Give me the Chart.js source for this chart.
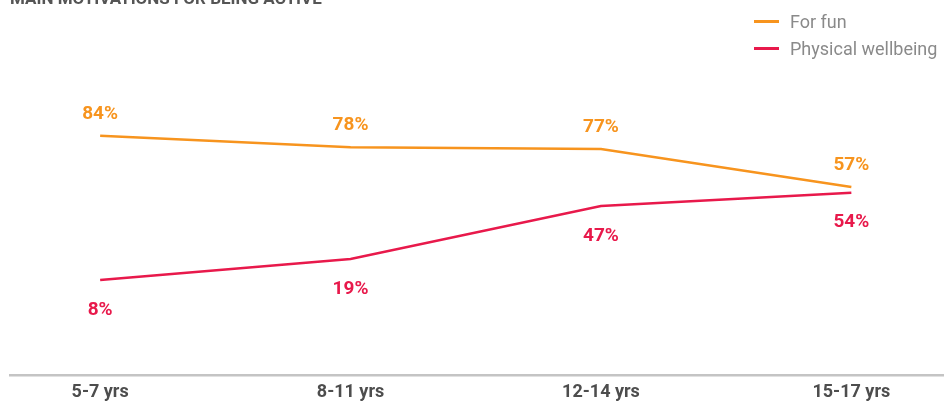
<!DOCTYPE html>
<html>
<head>
<meta charset="utf-8">
<script src="https://cdn.jsdelivr.net/npm/chart.js@4.4.1/dist/chart.umd.min.js"></script>
<style>
  body { margin: 0; background: #fff; }
  #wrap { position: relative; width: 944px; height: 406px; overflow: hidden; }
  #box { position: absolute; left: 0; top: -10px; width: 944px; height: 419px; }
  #legend { position: absolute; left: 754px; top: 8px; font-family: Roboto, sans-serif; font-size: 18px; color: #8a8a8a; }
  #legend .row { height: 27px; display: flex; align-items: center; }
  #legend .swatch { width: 25px; height: 3px; margin-right: 11px; }
</style>
</head>
<body>
<div id="wrap">
  <div id="box"><canvas id="chart"></canvas></div>
  <div id="legend"></div>
</div>
<script>
TITLE = "MAIN MOTIVATIONS FOR BEING ACTIVE"
AGE_GROUPS = ["5-7 yrs", "8-11 yrs", "12-14 yrs", "15-17 yrs"]
FOR_FUN = [84, 78, 77, 57]
PHYSICAL_WELLBEING = [8, 19, 47, 54]

ORANGE = "#f7941e"
RED = "#e8194b"

function ToPoints(values){
    return values.map(function(v, i){ return {x: i, y: v} })
}

// value labels above / below each point
var valueLabels = {
    id: "valueLabels",
    afterDatasetsDraw: function(chart){
        var ctx = chart.ctx
        ctx.save()
        ctx.font = "bold 19px Roboto, sans-serif"
        ctx.textAlign = "center"
        ctx.textBaseline = "middle"
        chart.data.datasets.forEach(function(ds, di){
            var meta = chart.getDatasetMeta(di)
            ctx.fillStyle = ds.borderColor
            meta.data.forEach(function(pt, i){
                ctx.fillText(ds.data[i].y + "%", pt.x, pt.y + ds.labelOffset)
            })
        })
        ctx.restore()
    }
}

var ctx = document.getElementById("chart").getContext("2d")
var chart = new Chart(ctx, {
    type: "line",
    data: {
        datasets: [
            {
                label: "For fun",
                data: ToPoints(FOR_FUN),
                borderColor: ORANGE,
                backgroundColor: ORANGE,
                borderWidth: 2.5,
                pointRadius: 0,
                tension: 0,
                labelOffset: -22
            },
            {
                label: "Physical wellbeing",
                data: ToPoints(PHYSICAL_WELLBEING),
                borderColor: RED,
                backgroundColor: RED,
                borderWidth: 2.5,
                pointRadius: 0,
                tension: 0,
                labelOffset: 30
            }
        ]
    },
    options: {
        responsive: true,
        maintainAspectRatio: false,
        animation: false,
        layout: { padding: { left: 10, right: 0, top: 0, bottom: 0 } },
        plugins: {
            legend: { display: false },
            tooltip: { enabled: false },
            title: {
                display: true,
                text: TITLE,
                align: "start",
                color: "#555",
                font: { family: "Roboto, sans-serif", size: 17, weight: "bold" },
                padding: { top: 0, bottom: 95 }
            }
        },
        scales: {
            x: {
                type: "linear",
                min: -0.36,
                max: 3.37,
                grid: { display: false, drawTicks: false },
                border: { display: true, color: "#c4c4c4", width: 2.5 },
                afterBuildTicks: function(scale){
                    scale.ticks = AGE_GROUPS.map(function(_, i){ return {value: i} })
                },
                ticks: {
                    padding: 6,
                    autoSkip: false,
                    maxRotation: 0,
                    color: "#4d4d4d",
                    font: { family: "Roboto, sans-serif", size: 18, weight: "bold" },
                    callback: function(v){ return AGE_GROUPS[v] }
                }
            },
            y: {
                display: false,
                min: -42.3,
                max: 100
            }
        }
    },
    plugins: [valueLabels]
})

var legendDiv = document.getElementById("legend")
chart.data.datasets.forEach(function(ds){
    legendDiv.innerHTML +=
        '<div class="row">' +
            '<div class="swatch" style="background:' + ds.borderColor + '"></div>' +
            '<span>' + ds.label + '</span>' +
        '</div>'
})
</script>
</body>
</html>
